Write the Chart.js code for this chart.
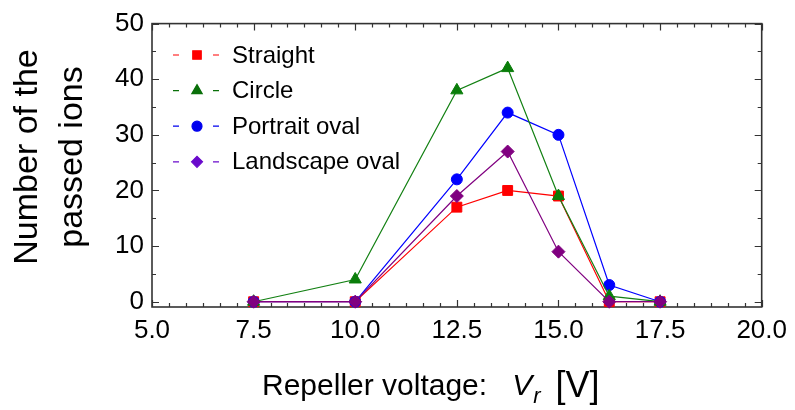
<!DOCTYPE html>
<html>
<head>
<meta charset="utf-8">
<script src="https://cdn.jsdelivr.net/npm/chart.js@4/dist/chart.umd.min.js"></script>
<style>
  html, body { margin: 0; padding: 0; background: #fff; }
  #wrap { width: 795px; height: 410px; }
</style>
</head>
<body>
<div id="wrap"><canvas id="c" width="795" height="410"></canvas></div>
<script>
// Repeller voltage [V] at which ions were counted
const voltages = [7.5, 10.0, 12.5, 13.75, 15.0, 16.25, 17.5];

// Number of passed ions for each electrode shape
const straight      = [0, 0, 17, 20, 19, 0, 0];
const circle        = [0, 4, 38, 42, 19, 1, 0];
const portraitOval  = [0, 0, 22, 34, 30, 3, 0];
const landscapeOval = [0, 0, 19, 27, 9, 0, 0];

const seriesNames = ['Straight', 'Circle', 'Portrait oval', 'Landscape oval'];

// Axis tick labels
const xTicks = [5.0, 7.5, 10.0, 12.5, 15.0, 17.5, 20.0];
const yTicks = [0, 10, 20, 30, 40, 50];

const FONT = "'Liberation Sans', Arial, sans-serif";

const styles = [
  { line: '#ff0000', fill: '#ff0000', legend: '#ff0000', shape: 'rect',     r: 7,   lr: 6,   order: 3 },
  { line: '#128012', fill: '#0a7d0a', legend: '#0a700a', shape: 'triangle', r: 7,   lr: 6,   order: 1 },
  { line: '#0000ff', fill: '#0000ff', legend: '#0000ee', shape: 'circle',   r: 5.5, lr: 5,   order: 2 },
  { line: '#800080', fill: '#800080', legend: '#6a0acc', shape: 'rectRot',  r: 6.5, lr: 5.5, order: 0 }
];
const seriesValues = [straight, circle, portraitOval, landscapeOval];

const datasets = seriesValues.map((vals, i) => ({
  label: seriesNames[i],
  data: voltages.map((v, j) => ({ x: v, y: vals[j] })),
  borderColor: styles[i].line,
  borderWidth: 1.2,
  backgroundColor: styles[i].fill,
  pointStyle: styles[i].shape,
  pointRadius: styles[i].r,
  pointHoverRadius: styles[i].r,
  pointBackgroundColor: styles[i].fill,
  pointBorderColor: styles[i].fill,
  pointBorderWidth: 1,
  tension: 0,
  fill: false,
  clip: false,
  order: styles[i].order
}));

// Frame with inward ticks on all four sides
const framePlugin = {
  id: 'frame',
  beforeDatasetsDraw(chart) {
    const { ctx, chartArea: a, scales } = chart;
    const xs = scales.x, ys = scales.y;
    ctx.save();
    ctx.strokeStyle = '#333';
    ctx.lineWidth = 1.6;
    ctx.strokeRect(a.left, a.top, a.right - a.left, a.bottom - a.top);
    ctx.lineWidth = 1.2;
    ctx.beginPath();
    for (let k = 0; k <= 36; k++) {
      const v = 5 + k * 2.5 / 6;
      const px = Math.round(xs.getPixelForValue(v)) + 0.5;
      const len = (k % 6 === 0) ? 7 : 4;
      ctx.moveTo(px, a.bottom); ctx.lineTo(px, a.bottom - len);
      ctx.moveTo(px, a.top);    ctx.lineTo(px, a.top + len);
    }
    for (let v = 0; v <= 50; v += 5) {
      const py = Math.round(ys.getPixelForValue(v)) + 0.5;
      const len = (v % 10 === 0) ? 7 : 4;
      ctx.moveTo(a.left, py);  ctx.lineTo(a.left + len, py);
      ctx.moveTo(a.right, py); ctx.lineTo(a.right - len, py);
    }
    ctx.stroke();
    ctx.restore();
  }
};

// Legend: dash - marker - dash, then the series name
const legendPlugin = {
  id: 'dashLegend',
  afterDatasetsDraw(chart) {
    const ctx = chart.ctx;
    ctx.save();
    seriesNames.forEach((name, i) => {
      const y = 55 + i * 35.6;
      const s = styles[i];
      ctx.strokeStyle = s.legend;
      ctx.lineWidth = 1.2;
      ctx.beginPath();
      ctx.moveTo(173, y); ctx.lineTo(179, y);
      ctx.moveTo(213, y); ctx.lineTo(219, y);
      ctx.stroke();
      ctx.fillStyle = s.legend;
      ctx.strokeStyle = s.legend;
      Chart.helpers.drawPoint(ctx, { pointStyle: s.shape, radius: s.lr, rotation: 0, borderWidth: 1 }, 197, y);
      ctx.fillStyle = '#000';
      ctx.font = '24px ' + FONT;
      ctx.textBaseline = 'middle';
      ctx.textAlign = 'left';
      ctx.fillText(name, 232, y + 1);
    });
    ctx.restore();
  }
};

// Axis titles (two-line y title, x title with italic subscripted symbol)
const titlePlugin = {
  id: 'axisTitles',
  afterDraw(chart) {
    const ctx = chart.ctx;
    ctx.save();
    ctx.fillStyle = '#000';
    ctx.textAlign = 'center';
    ctx.textBaseline = 'alphabetic';
    ctx.font = '34px ' + FONT;
    [['Number of the', 37], ['passed ions', 82]].forEach(([t, bx]) => {
      ctx.save();
      ctx.translate(bx, 157);
      ctx.rotate(-Math.PI / 2);
      ctx.fillText(t, 0, 0);
      ctx.restore();
    });

    ctx.textAlign = 'left';
    let x = 262;
    const base = 395;
    ctx.font = '30px ' + FONT;
    ctx.fillText('Repeller voltage:', x, base);
    x += ctx.measureText('Repeller voltage:').width + 25;
    ctx.font = 'italic 30px ' + FONT;
    ctx.fillText('V', x, base);
    x += ctx.measureText('V').width + 1;
    ctx.font = 'italic 22px ' + FONT;
    ctx.fillText('r', x, base + 8);
    x += ctx.measureText('r').width + 15;
    ctx.font = '36px ' + FONT;
    ctx.fillText('[V]', x, base + 2);
    ctx.restore();
  }
};

new Chart(document.getElementById('c'), {
  type: 'line',
  data: { datasets },
  options: {
    responsive: false,
    animation: false,
    devicePixelRatio: 1,
    layout: { padding: { top: 21, right: 30, bottom: 0, left: 0 } },
    plugins: { legend: { display: false }, tooltip: { enabled: false } },
    scales: {
      x: {
        type: 'linear',
        min: 5, max: 20,
        afterBuildTicks: s => { s.ticks = xTicks.map(v => ({ value: v })); },
        afterFit: s => { s.height = 103; },
        grid: { display: false, drawTicks: false },
        border: { display: false },
        ticks: {
          padding: 8,
          color: '#000',
          font: { family: FONT, size: 26 },
          maxRotation: 0,
          callback: v => Number(v).toFixed(1)
        }
      },
      y: {
        type: 'linear',
        min: -0.95, max: 50,
        afterBuildTicks: s => { s.ticks = yTicks.map(v => ({ value: v })); },
        afterFit: s => { s.width = 152; },
        grid: { display: false, drawTicks: false },
        border: { display: false },
        ticks: {
          padding: 8,
          color: '#000',
          font: { family: FONT, size: 26 }
        }
      }
    }
  },
  plugins: [framePlugin, legendPlugin, titlePlugin]
});
</script>
</body>
</html>
